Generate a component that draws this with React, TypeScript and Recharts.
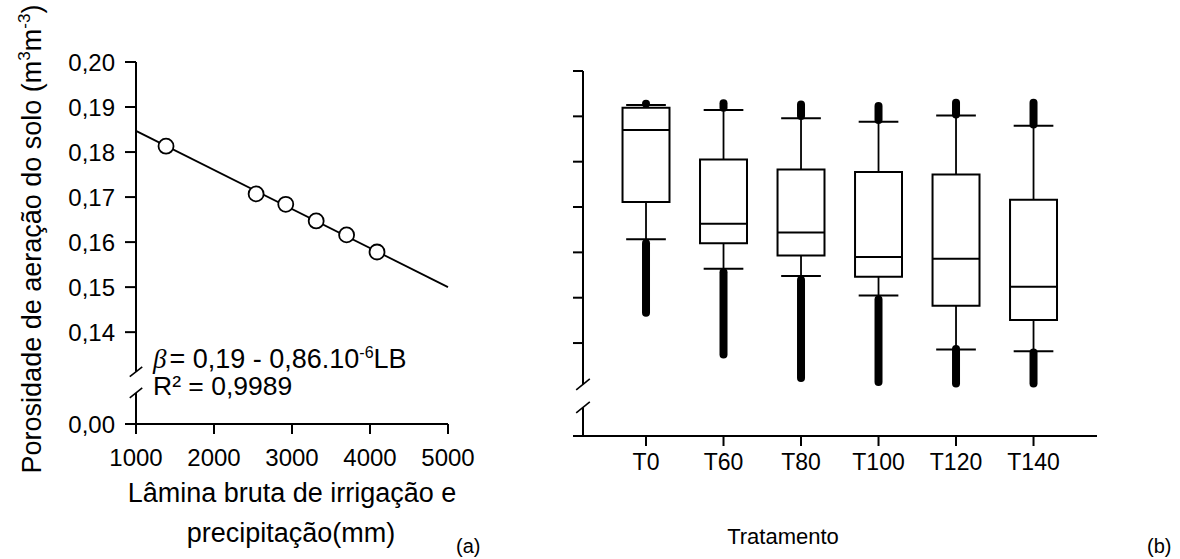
import React from "react"
import { ComposedChart, Line, Scatter, XAxis, YAxis, ReferenceLine, ReferenceArea } from "recharts"

// (a) porosidade de aeração x lâmina bruta
const laminaBruta = [1385, 2540, 2920, 3310, 3700, 4090]
const porosidadeAeracao = [0.1813, 0.1707, 0.1684, 0.1647, 0.1616, 0.1578]
const ajusteX = [1000, 5000]
const ajusteY = [0.1847, 0.15]
const laminaTicks = [1000, 2000, 3000, 4000, 5000]
const porosidadeTicks = [0.1196, 0.14, 0.15, 0.16, 0.17, 0.18, 0.19, 0.2]

// (b) boxplots por tratamento
const tratamentos = ["T0", "T60", "T80", "T100", "T120", "T140"]
const quartil1 = [0.1711, 0.162, 0.1593, 0.1546, 0.1482, 0.1451]
const mediana = [0.187, 0.1663, 0.1644, 0.159, 0.1586, 0.1524]
const quartil3 = [0.1919, 0.1805, 0.1783, 0.1777, 0.1772, 0.1716]
const bigodeInf = [0.1629, 0.1564, 0.1548, 0.1505, 0.1386, 0.1382]
const bigodeSup = [0.1925, 0.1914, 0.1896, 0.1888, 0.1902, 0.1879]
const outlierInf = [
  [0.1467, 0.162],
  [0.1375, 0.1556],
  [0.1323, 0.1539],
  [0.1314, 0.1496],
  [0.1311, 0.1387],
  [0.1311, 0.1379],
]
const outlierSup = [
  [0.1928, 0.1928],
  [0.1919, 0.1929],
  [0.1901, 0.1926],
  [0.1892, 0.1923],
  [0.1904, 0.193],
  [0.1882, 0.193],
]
const tratamentoTicks = [0, 1, 2, 3, 4, 5]
const tratamentoYTicks = [0.14, 0.15, 0.16, 0.17, 0.18, 0.19, 0.2]

const FONT = "'Liberation Sans', Arial, sans-serif"
const INK = "#000"

const pontos = laminaBruta.map((x, i) => ({ x, y: porosidadeAeracao[i] }))
const ajuste = ajusteX.map((x, i) => ({ x, y: ajusteY[i] }))
const caixas = tratamentos.map((t, i) => ({
  i,
  t,
  q1: quartil1[i],
  med: mediana[i],
  q3: quartil3[i],
  lo: bigodeInf[i],
  hi: bigodeSup[i],
  outLo: outlierInf[i],
  outHi: outlierSup[i],
}))

const fmt = (v: number) => (v < 0.13 ? "0,00" : v.toFixed(2).replace(".", ","))

// axis extents
const AX = [1000, 5000]
const AY = [0.1196, 0.2]
const BX = [-0.813, 5.819]
const BY = [0.1195, 0.2]
const HALF_BOX = 0.303
const HALF_CAP = 0.256

function Circle(p: any) {
  return <circle cx={p.cx} cy={p.cy} r={7.5} fill="#fff" stroke={INK} strokeWidth={1.8} />
}

function MedianTick(p: any) {
  // box is 2 * HALF_BOX units wide, 77.5 px per unit
  const hw = HALF_BOX * 77.5
  return <line x1={p.cx - hw} x2={p.cx + hw} y1={p.cy} y2={p.cy} stroke={INK} strokeWidth={2} />
}

function seg(key: string, x1: number, y1: number, x2: number, y2: number, w = 2, extra: any = {}) {
  return (
    <ReferenceLine
      key={key}
      segment={[{ x: x1, y: y1 }, { x: x2, y: y2 }]}
      stroke={INK}
      strokeWidth={w}
      ifOverflow="visible"
      {...extra}
    />
  )
}

function PanelA() {
  const ext = 141 // x-axis runs past the y axis by one tick length
  return (
    <ComposedChart width={490} height={490} margin={{ top: 62, right: 42, bottom: 0, left: 0 }}>
      <XAxis
        type="number"
        dataKey="x"
        domain={AX}
        ticks={laminaTicks}
        interval={0}
        axisLine={false}
        tickLine={{ stroke: INK, strokeWidth: 2 }}
        tickSize={10}
        tickMargin={15}
        height={66}
        tick={{ fill: INK, fontSize: 24, fontFamily: FONT }}
      />
      <YAxis
        type="number"
        dataKey="y"
        domain={AY}
        ticks={porosidadeTicks}
        interval={0}
        tickFormatter={fmt}
        axisLine={false}
        tickLine={{ stroke: INK, strokeWidth: 2 }}
        tickSize={11}
        tickMargin={10}
        width={136}
        tick={{ fill: INK, fontSize: 24, fontFamily: FONT }}
      />
      {seg("xa", AX[0] - ext, AY[0], AX[1], AY[0])}
      {seg("ya1", AX[0], AY[1], AX[0], 0.1312)}
      {seg("ya2", AX[0], 0.1265, AX[0], AY[0])}
      {seg("br1", AX[0] - 80, 0.1301, AX[0] + 80, 0.1323, 1.6)}
      {seg("br2", AX[0] - 80, 0.1254, AX[0] + 80, 0.1276, 1.6)}
      <Line
        data={ajuste}
        dataKey="y"
        type="linear"
        stroke={INK}
        strokeWidth={1.8}
        dot={false}
        isAnimationActive={false}
      />
      <Scatter data={pontos} dataKey="y" shape={Circle} isAnimationActive={false} />
    </ComposedChart>
  )
}

function PanelB() {
  return (
    <ComposedChart
      width={700}
      height={500}
      data={caixas}
      margin={{ top: 71, right: 83, bottom: 0, left: 0 }}
    >
      <XAxis
        type="number"
        dataKey="i"
        domain={BX}
        ticks={tratamentoTicks}
        interval={0}
        tickFormatter={(v: number) => tratamentos[v] ?? ""}
        axisLine={false}
        tickLine={{ stroke: INK, strokeWidth: 2 }}
        tickSize={10}
        tickMargin={8}
        height={64}
        tick={{ fill: INK, fontSize: 23, fontFamily: FONT }}
      />
      <YAxis
        type="number"
        dataKey="med"
        domain={BY}
        ticks={tratamentoYTicks}
        interval={0}
        tickFormatter={() => ""}
        axisLine={false}
        tickLine={{ stroke: INK, strokeWidth: 2 }}
        tickSize={10}
        width={103}
      />
      {seg("xb", BX[0] - 0.129, BY[0], BX[1], BY[0])}
      {seg("yb1", BX[0], BY[1], BX[0], 0.1309)}
      {seg("yb2", BX[0], 0.1258, BX[0], BY[0])}
      {seg("bb1", BX[0] - 0.088, 0.1297, BX[0] + 0.088, 0.1321, 1.6)}
      {seg("bb2", BX[0] - 0.088, 0.1246, BX[0] + 0.088, 0.127, 1.6)}
      {caixas.map((c) => (
        <ReferenceArea
          key={`bx${c.i}`}
          x1={c.i - HALF_BOX}
          x2={c.i + HALF_BOX}
          y1={c.q1}
          y2={c.q3}
          fill="none"
          stroke={INK}
          strokeWidth={2}
          ifOverflow="visible"
        />
      ))}
      {caixas.flatMap((c) => [
        seg(`ws${c.i}`, c.i, c.q3, c.i, c.hi, 1.8),
        seg(`wi${c.i}`, c.i, c.q1, c.i, c.lo, 1.8),
        seg(`cs${c.i}`, c.i - HALF_CAP, c.hi, c.i + HALF_CAP, c.hi, 2),
        seg(`ci${c.i}`, c.i - HALF_CAP, c.lo, c.i + HALF_CAP, c.lo, 2),
        seg(`oi${c.i}`, c.i, c.outLo[0], c.i, c.outLo[1], 8, { strokeLinecap: "round" }),
        seg(`os${c.i}`, c.i, c.outHi[0], c.i, c.outHi[1], 8, { strokeLinecap: "round" }),
      ])}
      <Scatter dataKey="med" shape={MedianTick} isAnimationActive={false} />
    </ComposedChart>
  )
}

export default function App() {
  return (
    <div style={{ position: "absolute", left: 0, top: 0, width: 1180, height: 559, background: "#fff" }}>
      <div style={{ position: "absolute", left: 0, top: 0 }}>
        <PanelA />
      </div>
      <div style={{ position: "absolute", left: 480, top: 0 }}>
        <PanelB />
      </div>
      <svg
        width={1180}
        height={559}
        style={{ position: "absolute", left: 0, top: 0, pointerEvents: "none" }}
        fontFamily={FONT}
        fill={INK}
      >
        <text transform="translate(41,239) rotate(-90)" textAnchor="middle" fontSize={27}>
          Porosidade de aeração do solo (m
          <tspan dy={-11} fontSize={17}>3</tspan>
          <tspan dy={11}>m</tspan>
          <tspan dy={-11} fontSize={17}>-3</tspan>
          <tspan dy={11}>)</tspan>
        </text>
        <text x={292} y={502} textAnchor="middle" fontSize={27}>
          Lâmina bruta de irrigação e
        </text>
        <text x={291} y={542} textAnchor="middle" fontSize={27}>
          precipitação(mm)
        </text>
        <text x={153} y={368} fontSize={27}>
          <tspan fontFamily="'Liberation Serif', serif" fontStyle="italic">β</tspan>
          <tspan dx={3}>= 0,19 - 0,86.10</tspan>
          <tspan dy={-10} fontSize={16}>-6</tspan>
          <tspan dy={10}>LB</tspan>
        </text>
        <text x={153} y={395} fontSize={26.5}>
          R² = 0,9989
        </text>
        <text x={783} y={544} textAnchor="middle" fontSize={22}>
          Tratamento
        </text>
        <text x={456} y={553} fontSize={20}>
          (a)
        </text>
        <text x={1147} y={553} fontSize={20}>
          (b)
        </text>
      </svg>
    </div>
  )
}
